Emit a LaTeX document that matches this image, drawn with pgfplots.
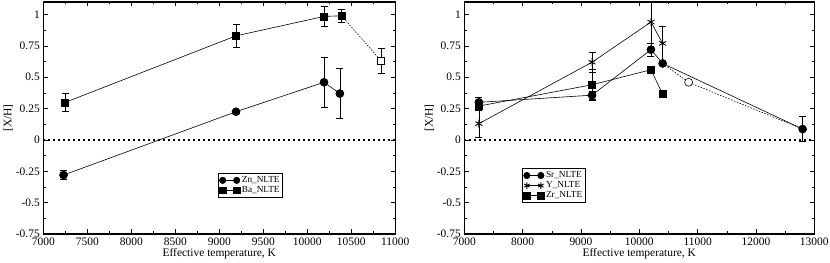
\documentclass[border=0pt]{standalone}
\usepackage{fontspec}
\setmainfont{Liberation Serif}
\usepackage{pgfplots}
\pgfplotsset{compat=1.18}
\pgfplotsset{
  grace/.style={
    scale only axis, height=232bp,
    ymin=-0.75, ymax=1.1,
    ytick={-0.75,-0.5,-0.25,0,0.25,0.5,0.75,1},
    minor y tick num=1, minor x tick num=1,
    scaled x ticks=false, scaled y ticks=false,
    tick align=inside,
    major tick length=4.5bp, minor tick length=2.5bp,
    every tick/.style={line width=0.6bp, black},
    axis line style={line width=1.1bp},
    /pgf/number format/assume math mode=true,
    /pgf/number format/set thousands separator={},
    tick label style={font=\fontsize{11.5}{13}\selectfont},
    label style={font=\fontsize{11.5}{13}\selectfont},
    xlabel={Effective temperature, K},
    ylabel={[X/H]},
    xlabel style={at={(axis description cs:0.5,0)}, anchor=center, yshift=-20bp},
    ylabel style={at={(axis description cs:-0.1,0.5)}, anchor=center},
    legend style={font=\fontsize{9.3}{9.5}\selectfont, draw=black, line width=0.8bp,
      inner sep=1.2bp, row sep=-1.5bp, cells={anchor=west}},
    legend image code/.code={\draw[##1, mark size=3.2bp] plot coordinates {(0bp,0bp) (14bp,0bp)};},
    every axis plot/.append style={line width=0.6bp, black},
    error bars/error bar style={line width=0.6bp, black, solid},
    error bars/error mark options={rotate=90, mark size=3.5bp, line width=0.6bp, black, solid},
  },
  zeroline/.style={forget plot, line width=1.5bp, dash pattern=on 1.7bp off 3.3bp},
  fine dash/.style={forget plot, line width=0.6bp, dash pattern=on 1.5bp off 1.5bp},
}
\begin{document}
\begin{tikzpicture}
\path[use as bounding box] (-43.3bp,-29bp) rectangle (786.7bp,234bp);
% ---------------- left panel
\begin{axis}[grace, width=352bp, xmin=7000, xmax=11000, xtick distance=500,
  legend style={at={(0.496,0.263)}, anchor=north west}]
\addplot[zeroline] coordinates {(7000,0) (11000,0)};
\addplot[fine dash] coordinates {(10390,0.99) (10840,0.63)};
\addplot[forget plot, only marks, mark=square*, mark size=3.5bp, mark options={fill=white},
  error bars/.cd, y dir=both, y explicit] coordinates {(10840,0.63) +- (0,0.10)};
\addplot[mark=*, mark size=4bp, error bars/.cd, y dir=both, y explicit] coordinates {
  (7230,-0.28) +- (0,0.035)
  (9190,0.225) +- (0,0.01)
  (10190,0.46) +- (0,0.20)
  (10370,0.37) +- (0,0.20)
};
\addlegendentry{Zn\_NLTE}
\addplot[mark=square*, mark size=3.5bp, error bars/.cd, y dir=both, y explicit] coordinates {
  (7250,0.30) +- (0,0.07)
  (9190,0.83) +- (0,0.09)
  (10190,0.985) +- (0,0.08)
  (10390,0.99) +- (0,0.05)
};
\addlegendentry{Ba\_NLTE}
\end{axis}
% ---------------- right panel
\begin{axis}[grace, width=350bp, at={(421bp,0)}, xmin=7000, xmax=13000, xtick distance=1000,
  legend style={at={(0.165,0.284)}, anchor=north west}]
\addplot[zeroline] coordinates {(7000,0) (13000,0)};
\addplot[fine dash] coordinates {(10400,0.61) (10845,0.46) (12800,0.087)};
\addplot[forget plot, only marks, mark=*, mark size=4bp, mark options={fill=white},
  error bars/.cd, y dir=both, y explicit] coordinates {(10845,0.46) +- (0,0.02)};
\addplot[mark=*, mark size=4bp, error bars/.cd, y dir=both, y explicit] coordinates {
  (7250,0.30) +- (0,0.04)
  (9190,0.357) +- (0,0.03)
  (10200,0.72) +- (0,0.05)
  (10400,0.61) +- (0,0.015)
  (12800,0.087) +- (0,0.10)
};
\addlegendentry{Sr\_NLTE}
\addplot[mark=asterisk, mark size=4bp, mark options={line width=0.9bp}, error bars/.cd, y dir=both, y explicit] coordinates {
  (7250,0.13) +- (0,0.11)
  (9190,0.62) +- (0,0.08)
  (10200,0.94) +- (0,0.17)
  (10400,0.77) +- (0,0.14)
};
\addlegendentry{Y\_NLTE}
\addplot[mark=square*, mark size=3.5bp, error bars/.cd, y dir=both, y explicit] coordinates {
  (7250,0.27) +- (0,0.03)
  (9190,0.44) +- (0,0.12)
  (10200,0.56) +- (0,0.02)
  (10400,0.365) +- (0,0.02)
};
\addlegendentry{Zr\_NLTE}
\end{axis}
\end{tikzpicture}
\end{document}
